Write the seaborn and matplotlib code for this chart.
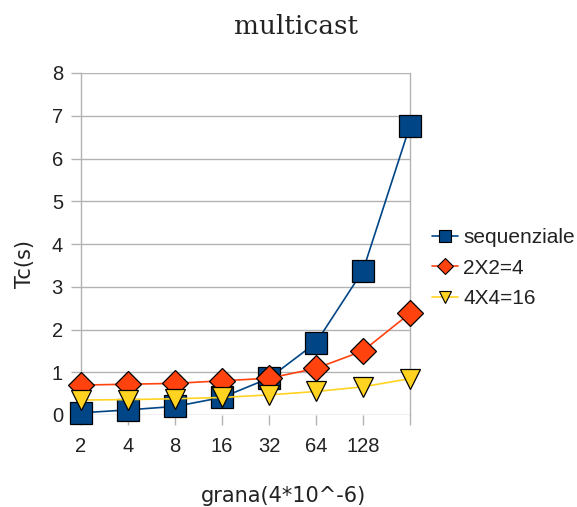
import matplotlib
matplotlib.use("Agg")
import matplotlib.pyplot as plt
import matplotlib.lines as mlines
import seaborn as sns
import pandas as pd

# granularity labels (last position is left unlabeled on the axis)
grana = ["2", "4", "8", "16", "32", "64", "128", ""]

sequenziale = [0.05, 0.12, 0.20, 0.41, 0.86, 1.69, 3.38, 6.77]
p2x2 = [0.70, 0.72, 0.74, 0.80, 0.86, 1.09, 1.50, 2.38]
p4x4 = [0.35, 0.36, 0.38, 0.41, 0.47, 0.55, 0.66, 0.85]

series = ["sequenziale", "2X2=4", "4X4=16"]
colors = ["#004586", "#ff420e", "#ffd320"]
markers = ["s", "D", "v"]
msizes = [16, 13, 14]

sns.set_style("white")
plt.rcParams["font.family"] = ["Liberation Sans", "DejaVu Sans"]

df = pd.DataFrame({
    "pos": list(range(len(grana))) * 3,
    "Tc": sequenziale + p2x2 + p4x4,
    "serie": [s for s in series for _ in grana],
})

fig = plt.figure(figsize=(5.77, 5.07), dpi=100)
ax = fig.add_axes([81 / 577, 1 - 415 / 507, 329 / 577, 342 / 507])

for name, col, mk in zip(series, colors, markers):
    sub = df[df["serie"] == name]
    sns.lineplot(data=sub, x="pos", y="Tc", ax=ax, color=col, marker=mk,
                 markeredgecolor="black", markeredgewidth=0.9,
                 linewidth=1.2, label=name, clip_on=False, zorder=3)

for line, ms in zip(ax.lines, msizes):
    line.set_markersize(ms)

ax.set_xlim(0, len(grana) - 1)
ax.set_ylim(0, 8)
ax.set_xticks(range(len(grana)))
ax.set_xticklabels(grana)
ax.set_yticks(range(0, 9))

ax.grid(axis="y", color="#b3b3b3", linewidth=1.0)
ax.grid(axis="x", visible=False)
for side in ["left", "right", "top", "bottom"]:
    ax.spines[side].set_color("#b3b3b3")
    ax.spines[side].set_linewidth(1.0)
ax.spines["top"].set_visible(False)
ax.spines["bottom"].set_visible(False)

ax.tick_params(axis="both", which="major", length=7, width=1.0,
               color="#b3b3b3", labelsize=14.5, labelcolor="#222222")
ax.tick_params(axis="x", pad=9, bottom=True)
ax.tick_params(axis="y", pad=6, left=True)

ax.set_xlabel("grana(4*10^-6)", fontsize=15, color="#222222",
              va="center", ha="center", family="DejaVu Sans")
ax.set_ylabel("Tc(s)", fontsize=15, color="#222222",
              va="center", ha="center", family="DejaVu Sans")
ax.xaxis.set_label_coords((283 - 81) / 329, (415 - 496) / 342)
ax.yaxis.set_label_coords((25 - 81) / 329, (415 - 264) / 342)
fig.text(296 / 577, 1 - 27 / 507, "multicast", ha="center", va="center",
         fontsize=19, family="DejaVu Serif", color="#222222")

leg_handles = [mlines.Line2D([], [], color=c, marker=m, markersize=s,
                             markeredgecolor="black", markeredgewidth=0.8,
                             linewidth=1.2)
               for c, m, s in zip(colors, markers, [9, 8, 9])]
leg = fig.legend(leg_handles, series, loc="center left",
                 bbox_to_anchor=(432 / 577, 1 - 268 / 507),
                 frameon=False, fontsize=15, handlelength=1.25,
                 handletextpad=0.25, labelspacing=0.55, borderaxespad=0,
                 borderpad=0)
for t in leg.get_texts():
    t.set_color("#222222")
if ax.get_legend():
    ax.get_legend().remove()

fig.savefig("out.png", dpi=100)
